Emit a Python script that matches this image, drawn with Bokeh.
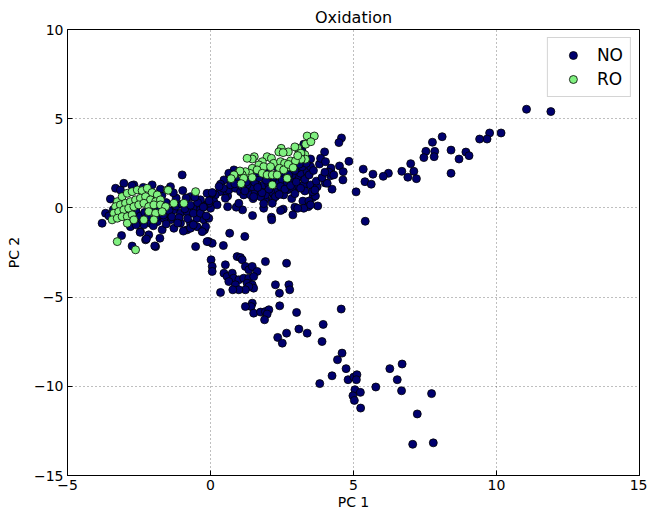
from bokeh.plotting import figure
from bokeh.models import Range1d, FixedTicker, Legend, LegendItem, ColumnDataSource
from bokeh.embed import file_html
from bokeh.resources import INLINE

title_text = "Oxidation"
x_label = "PC 1"
y_label = "PC 2"
x_ticks = [-5, 0, 5, 10, 15]
x_tick_labels = ["\u22125", "0", "5", "10", "15"]
y_ticks = [-15, -10, -5, 0, 5, 10]
y_tick_labels = ["\u221215", "\u221210", "\u22125", "0", "5", "10"]
series_names = ["NO", "RO"]

no_pts = [
    (11.05, 5.53), (11.9, 5.4), (10.16, 4.2), (9.76, 4.2), (9.67, 3.86), (9.41, 3.86), (8.1, 3.99), (7.76, 3.68),
    (7.53, 3.17), (7.84, 3.17), (7.46, 2.82), (7.82, 2.87), (8.41, 3.24), (8.93, 3.13), (9.04, 2.93), (8.69, 2.74),
    (8.41, 1.94), (7.0, 2.48), (7.11, 2.05), (6.69, 2.05), (6.9, 1.72), (7.2, 1.64), (6.22, 1.94), (6.04, 1.77),
    (5.68, 1.89), (5.34, 2.17), (5.4, 1.47), (5.62, 1.33), (5.09, 0.9), (5.41, -0.75), (4.84, 2.61), (4.58, 3.92),
    (4.49, 3.66), (4.51, 2.35), (4.64, 2.03), (4.63, 1.57), (4.2, 2.1), (4.25, 1.05), (4.2, 1.8),
    (3.99, 3.14), (3.81, 2.46), (4.21, 2.23), (4.14, 2.0), (4.01, 1.4), (3.5, 2.74), (3.2, 3.2), (3.26, 3.57),
    (3.58, 0.58), (3.67, 0.67), (3.23, 0.38), (3.44, 0.38), (3.42, 0.07), (3.26, -0.02), (3.75, 0.11), (2.95, 0.04),
    (2.84, 0.52), (3.05, -0.02), (2.88, -0.39), (2.54, -0.07), (2.45, -0.15), (2.19, 0.5), (2.16, 0.83), (1.91, 0.5),
    (2.13, -0.52), (1.86, -0.02), (1.49, 0.52), (1.12, -0.11), (1.47, -0.43), (0.6, 0.07), (0.9, 0.04), (0.99, 0.26),
    (0.6, 0.67), (0.67, -1.42), (1.2, -1.6),
    (0.82, 2.13), (0.64, 1.94), (0.76, 1.66), (0.93, 1.66), (0.47, 1.57), (0.35, 1.33), (0.52, 0.91), (0.33, 0.91),
    (0.17, 0.73), (0.06, 0.82), (0.64, 1.01), (0.87, 1.1), (1.05, 0.91), (1.28, 1.01), (1.16, 0.73), (1.4, 0.73),
    (1.57, 0.91), (1.75, 1.01), (1.86, 1.29), (2.04, 1.29), (2.21, 1.47), (2.39, 1.38), (2.51, 1.57), (2.68, 1.38),
    (2.86, 1.47), (3.03, 1.66), (3.15, 1.94), (3.38, 2.03), (3.5, 2.31), (3.03, 2.22), (3.21, 2.31), (2.86, 1.85),
    (2.74, 1.85), (2.33, 0.91), (2.51, 0.91), (2.68, 1.01), (2.1, 0.91), (1.92, 0.73), (1.75, 0.63), (1.51, 0.63),
    (2.27, 0.63), (2.56, 0.73), (2.91, 1.01), (3.09, 1.19), (3.26, 1.29), (3.5, 1.29), (3.73, 1.19), (3.56, 0.91),
    (1.63, 1.29), (1.46, 1.19), (1.28, 1.29), (1.11, 1.19), (0.7, 1.29), (0.12, 0.35), (0.52, 0.54), (0.23, 0.17),
    (2.16, 0.26), (1.86, 0.24), (3.5, 0.17), (3.85, 2.78), (4.02, 2.59), (4.08, 1.38), (4.31, 1.85),
    (1.3, 1.6), (1.55, 1.45), (1.7, 1.7), (1.95, 1.55), (2.2, 1.75), (2.45, 1.2), (2.6, 1.05), (2.8, 1.25),
    (3.0, 1.45), (3.3, 1.6), (3.45, 1.85), (3.6, 2.1), (3.7, 1.5), (3.35, 2.5), (3.1, 2.45), (2.95, 2.1),
    (2.5, 2.0), (2.3, 2.3), (1.9, 2.1), (1.6, 1.95), (1.25, 1.45), (1.0, 1.55), (0.85, 1.35), (1.2, 0.95),
    (1.8, 0.85), (2.4, 0.75), (2.95, 0.8), (3.3, 0.95), (3.65, 1.0), (3.9, 1.7), (4.0, 2.0), (2.05, 1.05),
    (1.65, 1.15), (2.7, 1.65), (3.15, 1.1), (0.45, 1.1), (0.3, 1.2),
    (-3.79, -0.86), (-3.67, -0.3), (-3.32, 1.1), (-3.03, 1.38), (-2.68, 1.29), (-2.04, 1.29), (-0.99, 1.85),
    (-1.4, 1.19), (-0.7, 0.63), (-1.51, -0.3), (-1.28, -0.11), (-1.05, -0.3), (-0.82, -0.21), (-0.58, -0.02),
    (-0.35, 0.07), (-0.17, 0.17), (0.0, -0.02), (-0.06, 0.26), (-0.35, 0.45), (-0.12, 0.82), (-0.47, -0.58),
    (-0.23, -0.67), (-0.06, -0.58), (-0.7, -0.86), (-1.05, -0.86), (-1.4, -0.67), (-1.63, -0.58), (-1.86, -0.77),
    (-2.1, -0.86), (-2.33, -0.95), (-2.56, -0.86), (-2.8, -1.05), (-2.45, -1.33), (-2.16, -1.51), (-1.69, -1.23),
    (-1.28, -1.14), (-0.82, -1.23), (-0.47, -1.05), (-0.23, -1.23), (-0.06, -1.89), (-1.92, -2.17), (-2.27, -1.79),
    (-3.11, -1.55), (-2.74, -2.14), (-0.52, -2.17), (0.06, -1.98), (-1.95, -2.13), (-2.24, -1.74), (-2.46, -1.37),
    (-1.77, -1.7), (-0.97, 0.97), (-0.21, -1.23), (-0.12, -1.89), (0.45, -2.11), (0.06, 0.86), (-0.23, 0.07),
    (-0.35, -0.11), (-0.17, -1.05), (-0.29, -1.33), (-0.7, -1.14),
    (-3.0, -0.35), (-2.85, -0.7), (-2.6, -0.2), (-2.45, -0.45), (-2.3, -0.25), (-2.2, -0.5), (-2.05, -0.1),
    (-1.9, -0.55), (-1.8, 0.0), (-1.65, -0.4), (-1.55, 0.3), (-1.45, -0.15), (-1.35, -0.5), (-1.2, 0.1),
    (-1.1, -0.55), (-1.0, 0.2), (-0.9, -0.05), (-0.8, -0.6), (-0.7, 0.15), (-0.6, -0.3), (-0.45, 0.3),
    (-0.35, -0.3), (-0.25, 0.05), (-0.15, -0.45), (-0.05, 0.4), (-1.7, 0.7), (-1.2, 0.55), (-0.85, 0.55),
    (-2.0, 0.65), (-2.6, -0.95), (-2.0, -1.0), (-1.55, -0.9), (-1.15, -0.85), (-0.95, -1.3), (-0.6, -0.95),
    (-3.4, -0.1), (-3.55, -0.45), (-1.3, 0.85), (-0.55, 0.6), (-2.75, 1.25), (-2.35, 1.15), (-1.75, 1.05),
    (-3.15, 1.0), (-3.5, 0.5),
    (0.02, -2.91), (0.06, -3.28), (0.06, -3.56), (0.52, -3.19), (0.93, -2.73), (1.05, -2.78), (1.11, -2.91),
    (1.22, -3.28), (1.34, -3.47), (1.46, -3.28), (1.63, -3.56), (0.47, -3.66), (0.58, -3.85), (0.76, -3.66),
    (0.81, -3.94), (0.64, -4.13), (0.99, -4.03), (0.87, -4.31), (1.16, -3.94), (1.34, -3.94), (1.51, -3.85),
    (1.28, -4.22), (1.46, -4.31), (1.51, -4.5), (1.34, -4.41), (1.22, -4.59), (0.99, -4.59), (0.78, -4.59),
    (0.35, -4.74), (1.92, -3.01), (2.66, -3.1), (2.27, -4.31), (2.74, -4.31), (2.77, -4.59), (2.41, -4.78),
    (1.46, -5.34), (1.42, -5.53), (1.22, -5.53), (1.51, -5.9), (1.75, -5.84), (1.92, -5.81), (2.04, -5.71),
    (1.98, -5.95), (1.89, -6.27), (2.42, -5.49), (3.01, -5.86), (2.35, -7.26), (2.66, -7.02), (2.51, -7.58),
    (3.09, -6.79), (3.38, -7.02), (3.94, -6.53), (3.9, -7.49), (4.57, -5.67), (4.6, -8.14), (4.44, -8.51),
    (4.74, -9.01), (2.14, -0.67),
    (4.25, -9.41), (3.82, -9.85), (4.81, -9.63), (5.01, -9.48), (5.12, -9.35), (5.1, -9.63), (5.05, -10.19),
    (5.24, -10.34), (4.98, -10.53), (5.03, -10.79), (5.25, -11.22), (5.78, -10.04), (6.27, -9.01), (6.70, -8.75),
    (6.53, -9.63), (6.68, -10.25), (7.73, -10.41), (7.23, -11.55), (7.07, -13.25), (7.79, -13.17),
]

ro_pts = [
    (3.38, 4.03), (3.63, 4.03), (3.33, 3.57), (3.51, 3.71), (3.05, 3.34), (2.95, 3.42), (2.72, 3.14), (2.47, 3.34),
    (2.39, 3.14), (2.54, 3.1), (3.3, 2.98), (3.16, 3.07), (3.32, 2.73), (3.17, 2.73), (1.53, 2.87), (1.46, 2.74),
    (1.28, 2.78), (1.98, 2.87), (2.13, 2.78), (2.21, 2.5), (1.81, 2.59), (1.69, 2.41), (1.86, 2.31), (2.1, 2.31),
    (2.45, 2.59), (2.59, 2.5), (2.74, 2.31), (2.41, 2.22), (2.56, 2.13), (2.8, 2.63), (1.46, 2.22), (1.63, 2.13),
    (1.37, 1.94), (1.22, 2.03), (1.11, 1.85), (0.99, 2.03), (1.81, 1.94), (1.98, 1.85), (2.16, 1.85), (2.33, 1.85),
    (1.46, 1.7), (1.16, 1.66), (1.07, 1.36), (2.16, 1.29), (2.68, 1.66), (2.97, 2.63), (3.05, 2.93), (2.72, 2.44),
    (2.89, 2.25), (1.03, 2.07), (0.82, 1.85), (0.72, 1.64),
    (-3.26, 0.35), (-3.09, 0.63), (-2.91, 0.82), (-2.74, 0.91), (-2.56, 1.01), (-2.39, 0.97), (-2.21, 1.1),
    (-2.04, 0.86), (-1.86, 0.73), (-1.51, 1.01), (-0.52, 0.91), (-3.32, 0.07), (-3.15, 0.17), (-2.97, 0.26),
    (-2.8, 0.35), (-2.62, 0.45), (-2.45, 0.54), (-2.27, 0.63), (-2.1, 0.45), (-1.92, 0.35), (-1.75, 0.45),
    (-3.38, -0.3), (-3.21, -0.21), (-3.03, -0.11), (-2.86, -0.02), (-2.68, 0.07), (-2.51, 0.17), (-2.33, 0.26),
    (-2.16, 0.07), (-1.98, 0.17), (-1.75, 0.17), (-1.57, 0.07), (-1.28, 0.26), (-0.93, 0.26), (-3.44, -0.67),
    (-3.26, -0.58), (-3.09, -0.49), (-2.91, -0.49), (-2.74, -0.39), (-2.16, -0.21), (-1.92, -0.3), (-1.69, -0.21),
    (-2.91, -0.86), (-2.68, -0.67), (-2.33, -0.67), (-1.98, -0.67), (-1.48, 0.99), (-3.26, -1.89), (-2.62, -2.35),
]

no_x = [pt[0] for pt in no_pts]
no_y = [pt[1] for pt in no_pts]
ro_x = [pt[0] for pt in ro_pts]
ro_y = [pt[1] for pt in ro_pts]

FONT = "DejaVu Sans"
NAVY = "#00006e"
GREEN = "#80f080"

p = figure(width=647, height=514, output_backend="svg", toolbar_location=None,
           x_range=Range1d(-5, 15), y_range=Range1d(-15, 10),
           min_border_left=67, min_border_right=8, min_border_top=29, min_border_bottom=39,
           background_fill_color="white", border_fill_color="white")

p.title.text = title_text
p.title.align = "center"
p.title.text_font = FONT
p.title.text_font_size = "16px"
p.title.text_font_style = "normal"
p.title.text_color = "black"
p.title.standoff = 5
p.title.offset = 0

p.outline_line_color = "black"
p.outline_line_width = 1
p.outline_line_alpha = 1

for ax, ticks, labels, lab in ((p.xaxis[0], x_ticks, x_tick_labels, x_label),
                                (p.yaxis[0], y_ticks, y_tick_labels, y_label)):
    ax.ticker = FixedTicker(ticks=ticks)
    ax.major_label_overrides = {t: l for t, l in zip(ticks, labels)}
    ax.minor_tick_line_color = None
    ax.major_tick_in = 5
    ax.major_tick_out = 0
    ax.major_label_standoff = 4
    ax.major_label_text_font = FONT
    ax.major_label_text_font_size = "14px"
    ax.major_label_text_color = "black"
    ax.axis_line_color = "black"
    ax.major_tick_line_color = "black"
    ax.axis_label = lab
    ax.axis_label_text_font = FONT
    ax.axis_label_text_font_size = "14px"
    ax.axis_label_text_font_style = "normal"
    ax.axis_label_text_color = "black"

p.xaxis[0].axis_label_standoff = 1
p.yaxis[0].axis_label_standoff = 9

p.xgrid.ticker = FixedTicker(ticks=x_ticks)
p.ygrid.ticker = FixedTicker(ticks=y_ticks)
for g in (p.xgrid[0], p.ygrid[0]):
    g.grid_line_color = "black"
    g.grid_line_alpha = 0.5
    g.grid_line_dash = "1 3"
    g.grid_line_width = 1

no_src = ColumnDataSource(dict(x=no_x, y=no_y))
ro_src = ColumnDataSource(dict(x=ro_x, y=ro_y))
r_no = p.scatter("x", "y", source=no_src, size=8, fill_color=NAVY, line_color="black", line_width=0.8)
r_ro = p.scatter("x", "y", source=ro_src, size=8, fill_color=GREEN, line_color="black", line_width=0.8)

legend = Legend(items=[LegendItem(label=series_names[0], renderers=[r_no]),
                       LegendItem(label=series_names[1], renderers=[r_ro])],
                location="top_right")
legend.margin = 8
legend.padding = 7
legend.spacing = 4
legend.glyph_width = 36
legend.glyph_height = 20
legend.label_height = 20
legend.label_standoff = 6
legend.label_text_font = FONT
legend.label_text_font_size = "17px"
legend.label_text_color = "black"
legend.border_line_color = "#aaaaaa"
legend.border_line_width = 1
legend.background_fill_color = "white"
legend.background_fill_alpha = 1
p.add_layout(legend, "center")

with open("out.html", "w") as f:
    f.write(file_html(p, INLINE))
